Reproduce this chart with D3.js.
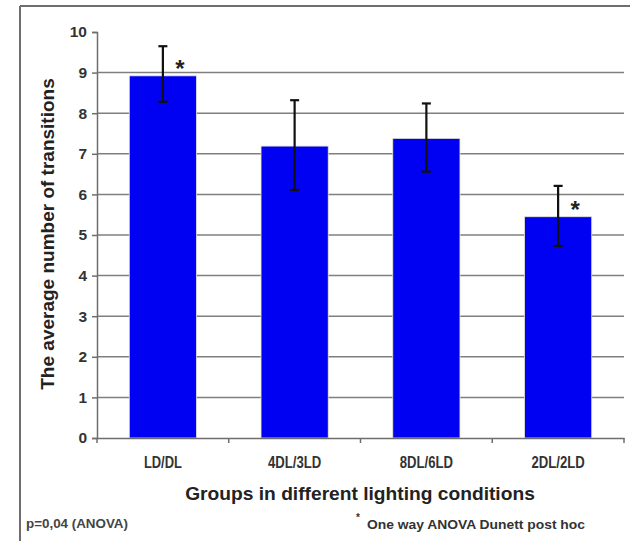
<!DOCTYPE html>
<html>
<head>
<meta charset="utf-8">
<script src="https://cdn.jsdelivr.net/npm/d3@7"></script>
<style>
  body { margin: 0; background: #fff; }
  svg { display: block; }
</style>
</head>
<body>
<svg width="630" height="541"></svg>
<script>
// values
var groups = ["LD/DL", "4DL/3LD", "8DL/6LD", "2DL/2LD"];
var means = [8.92, 7.19, 7.38, 5.45];
var errHigh = [9.65, 8.32, 8.24, 6.21];
var errLow = [8.28, 6.11, 6.56, 4.73];
var starred = [true, false, false, true];
var yTicks = [0, 1, 2, 3, 4, 5, 6, 7, 8, 9, 10];

var svg = d3.select("svg");
var font = "'Liberation Sans', Arial, sans-serif";

var x = d3.scaleBand().domain(groups).range([97, 624]).paddingInner(0.49).paddingOuter(0.245);
var xb = d3.scaleBand().domain(groups).range([97, 624]);
var y = d3.scaleLinear().domain([0, 10]).range([438, 32]);

// outer frame (top and left edges only visible)
svg.append("line").attr("x1", 20).attr("x2", 630).attr("y1", 6).attr("y2", 6)
  .attr("stroke", "#6e6e6e").attr("stroke-width", 2);
svg.append("line").attr("x1", 20).attr("x2", 20).attr("y1", 6).attr("y2", 541)
  .attr("stroke", "#6e6e6e").attr("stroke-width", 2);

// gridlines
svg.append("g").selectAll("line")
  .data(yTicks.filter(function(d) { return d > 0 && d < 10; }))
  .enter().append("line")
  .attr("x1", 97).attr("x2", 624)
  .attr("y1", function(d) { return y(d); })
  .attr("y2", function(d) { return y(d); })
  .attr("stroke", "#7f7f7f").attr("stroke-width", 1.5);

// bars
svg.append("g").selectAll("rect")
  .data(groups)
  .enter().append("rect")
  .attr("x", function(d) { return x(d); })
  .attr("y", function(d, i) { return y(means[i]); })
  .attr("width", x.bandwidth())
  .attr("height", function(d, i) { return y(0) - y(means[i]); })
  .attr("fill", "#0000f2")
  .attr("stroke", "#e8e6c8").attr("stroke-width", 0.8);

// y axis
var yAxis = svg.append("g")
  .attr("transform", "translate(97,0)")
  .call(d3.axisLeft(y).tickValues(yTicks).tickSize(5).tickPadding(5));
yAxis.select(".domain").attr("stroke", "#6e6e6e").attr("stroke-width", 1.5);
yAxis.selectAll(".tick line").attr("stroke", "#6e6e6e").attr("stroke-width", 1.5);
yAxis.selectAll(".tick text")
  .attr("font-family", font).attr("font-size", 15.5).attr("font-weight", "bold")
  .attr("fill", "#333");

// x axis, ticks at the category boundaries
var xAxis = svg.append("g")
  .attr("transform", "translate(0," + y(0) + ")")
  .call(d3.axisBottom(xb).tickSize(0).tickPadding(19));
xAxis.select(".domain").attr("stroke", "#6e6e6e").attr("stroke-width", 1.5);
xAxis.selectAll(".tick text")
  .attr("font-family", font).attr("font-size", 16).attr("font-weight", "bold")
  .attr("fill", "#333")
  .attr("textLength", function(d) { return d.length * 7.6; })
  .attr("lengthAdjust", "spacingAndGlyphs");
svg.append("g").selectAll("line")
  .data(groups.concat(["end"]))
  .enter().append("line")
  .attr("x1", function(d, i) { return i < groups.length ? xb(d) : xb.range()[1]; })
  .attr("x2", function(d, i) { return i < groups.length ? xb(d) : xb.range()[1]; })
  .attr("y1", y(0)).attr("y2", y(0) + 5)
  .attr("stroke", "#6e6e6e").attr("stroke-width", 1.5);

// error bars
var eb = svg.append("g").attr("stroke", "#111").attr("stroke-width", 2.2);
groups.forEach(function(g, i) {
  var cx = x(g) + x.bandwidth() / 2;
  eb.append("line").attr("x1", cx).attr("x2", cx).attr("y1", y(errHigh[i])).attr("y2", y(errLow[i]));
  eb.append("line").attr("x1", cx - 4.5).attr("x2", cx + 4.5).attr("y1", y(errHigh[i])).attr("y2", y(errHigh[i]));
  eb.append("line").attr("x1", cx - 4.5).attr("x2", cx + 4.5).attr("y1", y(errLow[i])).attr("y2", y(errLow[i]));
});

// significance stars
svg.append("g").selectAll("text")
  .data(groups.filter(function(d, i) { return starred[i]; }))
  .enter().append("text")
  .attr("x", function(d) { return x(d) + x.bandwidth() / 2 + 17; })
  .attr("y", function(d) { return y(means[groups.indexOf(d)]) + 1; })
  .attr("text-anchor", "middle")
  .attr("font-family", font).attr("font-size", 24).attr("font-weight", "bold")
  .attr("fill", "#222")
  .text("*");

// axis titles
svg.append("text")
  .attr("transform", "translate(54,234) rotate(-90)")
  .attr("text-anchor", "middle")
  .attr("font-family", font).attr("font-size", 19).attr("font-weight", "bold")
  .attr("fill", "#222")
  .text("The average number of transitions");

svg.append("text")
  .attr("x", 360).attr("y", 500)
  .attr("text-anchor", "middle")
  .attr("font-family", font).attr("font-size", 19.2).attr("font-weight", "bold")
  .attr("fill", "#222")
  .text("Groups in different lighting conditions");

// notes
svg.append("text")
  .attr("x", 26).attr("y", 528)
  .attr("font-family", font).attr("font-size", 13).attr("font-weight", "bold")
  .attr("fill", "#444")
  .attr("textLength", 102).attr("lengthAdjust", "spacingAndGlyphs")
  .text("p=0,04 (ANOVA)");

svg.append("text")
  .attr("x", 356).attr("y", 521)
  .attr("font-family", font).attr("font-size", 10).attr("font-weight", "bold")
  .attr("fill", "#333")
  .text("*");
svg.append("text")
  .attr("x", 367).attr("y", 529)
  .attr("font-family", font).attr("font-size", 13).attr("font-weight", "bold")
  .attr("fill", "#333")
  .attr("textLength", 218).attr("lengthAdjust", "spacingAndGlyphs")
  .text("One way ANOVA Dunett post hoc");
</script>
</body>
</html>
